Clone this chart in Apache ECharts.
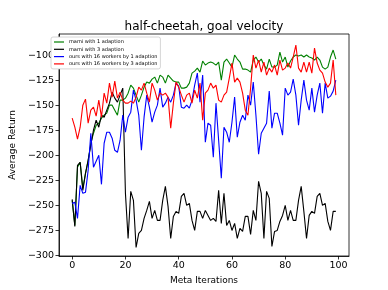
<!DOCTYPE html>
<html>
<head>
<meta charset="utf-8">
<script src="https://cdn.jsdelivr.net/npm/echarts@6/dist/echarts.min.js"></script>
<style>html,body{margin:0;padding:0;background:#fff;}#c{width:388px;height:290px;}</style>
</head>
<body>
<div id="c"></div>
<script>
const iterations = Array.from({length: 100}, (_, i) => i);
const xTicks = [0, 20, 40, 60, 80, 100];
const yTicks = [-300, -275, -250, -225, -200, -175, -150, -125, -100];
const seriesNames = ['mami with 1 adaption', 'mami with 3 adaption', 'ours with 16 workers by 1 adaption', 'ours with 16 workers by 3 adaption'];

const mami1 = [-245,-270,-212,-207,-233,-218,-205,-188,-178,-170,-168,-163,-160,-158,-150,-150,-155,-160,-145,-145,
  -143,-138,-130,-133,-140,-147,-140,-132,-127,-128,-124,-122,-128,-120,-122,-128,-120,-123,-126,-127,
  -127,-133,-133,-132,-128,-118,-116,-113,-117,-106,-110,-108,-107,-108,-110,-107,-125,-107,-104,-108,
  -112,-100,-104,-107,-114,-114,-115,-117,-105,-102,-107,-104,-110,-114,-104,-112,-112,-110,-97,-107,
  -102,-112,-106,-102,-100,-101,-100,-102,-100,-102,-103,-105,-102,-105,-112,-114,-112,-102,-95,-104];

const mami3 = [-244,-271,-210,-207,-235,-218,-205,-190,-175,-165,-172,-160,-162,-155,-148,-137,-143,-147,-140,-133,
  -238,-283,-236,-245,-292,-278,-275,-263,-255,-246,-263,-255,-265,-265,-245,-231,-251,-283,-261,-256,
  -258,-241,-238,-250,-248,-265,-275,-256,-256,-263,-255,-260,-265,-263,-266,-235,-268,-238,-270,-265,
  -275,-268,-283,-273,-276,-261,-261,-279,-255,-265,-226,-238,-283,-236,-243,-291,-276,-275,-266,-260,
  -250,-265,-255,-265,-265,-245,-231,-256,-283,-260,-256,-258,-241,-238,-250,-248,-266,-275,-256,-256];

const ours1 = [-248,-247,-263,-230,-238,-237,-215,-178,-212,-206,-200,-229,-188,-177,-177,-183,-195,-197,-185,-160,
  -177,-162,-157,-135,-145,-160,-195,-162,-140,-152,-167,-157,-150,-133,-152,-148,-142,-147,-140,-128,
  -131,-152,-153,-150,-153,-145,-130,-118,-147,-120,-187,-168,-170,-202,-148,-185,-223,-172,-177,-187,
  -167,-142,-182,-167,-160,-165,-140,-150,-127,-160,-199,-178,-173,-168,-136,-173,-158,-158,-168,-180,
  -133,-140,-137,-124,-140,-170,-145,-125,-145,-155,-133,-157,-140,-128,-158,-128,-143,-141,-136,-125];

const ours3 = [-163,-172,-184,-172,-150,-144,-168,-155,-152,-161,-145,-162,-138,-148,-128,-142,-126,-143,-137,-145,
  -148,-148,-146,-148,-142,-132,-135,-128,-138,-147,-128,-135,-145,-138,-140,-138,-142,-173,-148,-127,
  -132,-140,-147,-140,-138,-148,-135,-143,-128,-165,-138,-135,-128,-133,-130,-145,-147,-140,-137,-123,
  -108,-127,-123,-127,-138,-155,-160,-133,-100,-113,-105,-117,-107,-120,-113,-117,-110,-120,-105,-115,
  -113,-108,-113,-102,-90,-113,-117,-107,-117,-107,-118,-93,-108,-115,-118,-127,-132,-128,-105,-140];

const colors = ['#008000', '#000000', '#0000ff', '#ff0000'];
const allData = [mami1, mami3, ours1, ours3];

const minus = v => String(v).replace('-', '\u2212');
const chart = echarts.init(document.getElementById('c'), null, {renderer: 'canvas'});
chart.setOption({
  animation: false,
  backgroundColor: '#fff',
  textStyle: {fontFamily: 'DejaVu Sans'},
  title: {
    text: 'half-cheetah, goal velocity',
    left: 199, top: 16, textAlign: 'center',
    textStyle: {fontSize: 12, fontWeight: 'normal', color: '#000', fontFamily: 'DejaVu Sans'}
  },
  grid: {left: 49, right: 39, top: 34, bottom: 34, show: true, borderColor: '#000', borderWidth: 0.8, backgroundColor: 'transparent'},
  legend: {
    orient: 'vertical', left: 51, top: 37,
    data: seriesNames,
    icon: 'rect', itemWidth: 10, itemHeight: 1.2, itemGap: 1.3,
    padding: [2, 3, 2, 3],
    borderColor: '#cccccc', borderWidth: 0.8, borderRadius: 2, backgroundColor: '#fff',
    textStyle: {fontSize: 5, lineHeight: 6, color: '#000', fontFamily: 'DejaVu Sans', padding: [0,0,0,0]}
  },
  xAxis: {
    type: 'value', min: -4.95, max: 103.95,
    name: 'Meta Iterations', nameLocation: 'middle', nameGap: 18,
    nameTextStyle: {fontSize: 9, color: '#000'},
    axisLine: {show: true, onZero: false, lineStyle: {color: '#000', width: 0.8}},
    axisTick: {show: true, length: 3.5, lineStyle: {color: '#000', width: 0.8}, customValues: xTicks},
    axisLabel: {fontSize: 9.5, color: '#000', margin: 5, customValues: xTicks, formatter: minus},
    splitLine: {show: false}
  },
  yAxis: {
    type: 'value', min: -300.5, max: -79,
    name: 'Average Return', nameLocation: 'middle', nameGap: 33, nameRotate: 90,
    nameTextStyle: {fontSize: 9, color: '#000'},
    axisLine: {show: true, onZero: false, lineStyle: {color: '#000', width: 0.8}},
    axisTick: {show: true, length: 3.5, lineStyle: {color: '#000', width: 0.8}, customValues: yTicks},
    axisLabel: {fontSize: 9.5, color: '#000', margin: 5, customValues: yTicks, formatter: minus},
    splitLine: {show: false}
  },
  series: seriesNames.map((n, k) => ({
    name: n, type: 'line', showSymbol: false, symbol: 'none',
    data: iterations.map((x, i) => [x, allData[k][i]]),
    lineStyle: {color: colors[k], width: 1.1},
    itemStyle: {color: colors[k]},
    z: 2 + k
  }))
});
</script>
</body>
</html>
